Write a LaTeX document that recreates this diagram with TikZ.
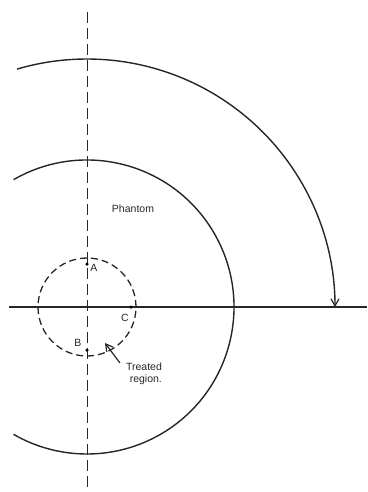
\documentclass[tikz,border=0pt]{standalone}
\usepackage{fontspec}
\setmainfont{Liberation Sans}
\usetikzlibrary{arrows.meta}
\begin{document}
\begin{tikzpicture}[x=1pt,y=1pt,
  ln/.style={line width=1.4pt, black!85},
  axisdash/.style={line width=0.9pt, black!85, dash pattern=on 11pt off 5pt},
  circdash/.style={line width=1.3pt, black!85, dash pattern=on 7pt off 4pt},
  pt/.style={circle, fill=black, inner sep=0pt, minimum size=3.5pt},
  lbl/.style={font=\fontsize{10.5}{12}\selectfont, inner sep=1pt, black!85},
  barb/.style={-{Straight Barb[length=7pt,width=8pt,line width=1.2pt]}}]
\useasboundingbox (0,0) rectangle (367,-492);
\coordinate (O) at (87,-307);
\coordinate (vt) at (87,-12);
\coordinate (vb) at (87,-492);
\coordinate (hl) at (9,-307);
\coordinate (hr) at (367,-307);
% axes
\draw[axisdash] (vt) -- (vb);
\draw[ln] (hl) -- (hr);
% phantom
\draw[ln] (O) ++(120:147) arc[start angle=120, end angle=-120, radius=147];
% outer arc with arrow
\draw[ln, barb] (O) ++(106.4:248) arc[start angle=106.4, end angle=0, radius=248];
% treated region
\draw[circdash] (O) circle[radius=49];
\node[pt] (A) at (87,-264) {};
\node[pt] (B) at (87,-350) {};
\node[pt] (C) at (131,-307) {};
\node[lbl] (Al) at (94,-268) {A};
\node[lbl] (Bl) at (78,-343) {B};
\node[lbl] (Cl) at (125,-318) {C};
\node[lbl] (ph) at (133,-209) {Phantom};
\node[lbl, align=right] (tr) at (144,-374) {Treated\\region.};
\coordinate (tip) at (105,-343);
\draw[line width=1.2pt, black!85, barb] (tr.north west) ++(-5,-1) -- (tip);
\end{tikzpicture}
\end{document}
